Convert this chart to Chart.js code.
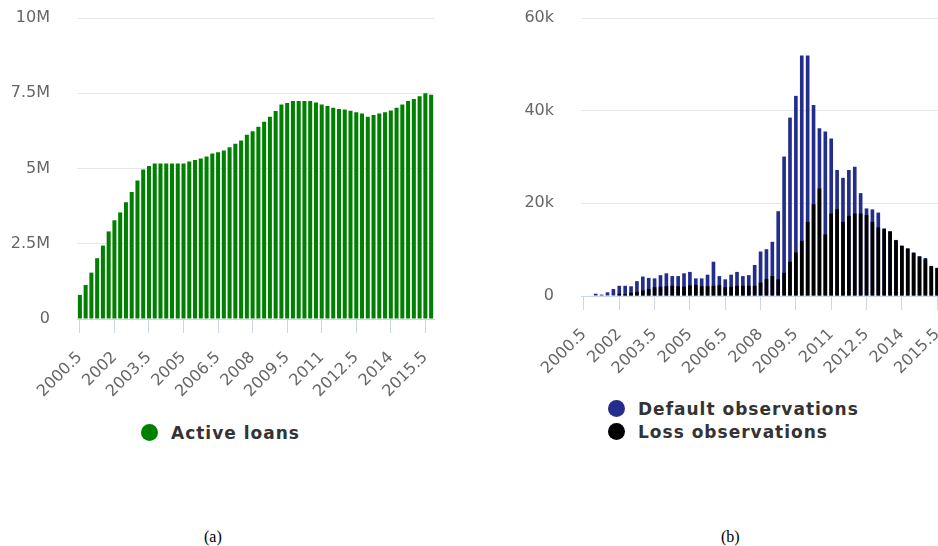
<!DOCTYPE HTML>
<html>
<head>
<meta charset="utf-8">
<script src="https://cdn.jsdelivr.net/npm/chart.js"></script>
<style>
    body { margin: 0; width: 938px; height: 546px; overflow: hidden; background: #fff; position: relative; }
    .box { position: absolute; }
    .legend { position: absolute; font: bold 17px "DejaVu Sans"; letter-spacing: 1px; color: #333; }
    .legend div { display: flex; align-items: center; height: 23px; white-space: nowrap; }
    .legend .dot { display: inline-block; width: 17px; height: 17px; border-radius: 50%; margin-right: 13px; }
    .caption { position: absolute; font: 16px "Liberation Serif"; color: #000; }
</style>
</head>
<body>

<div class="box" style="left:0; top:0; width:445px; height:411px"><canvas id="loansChart"></canvas></div>
<div class="box" style="left:520px; top:0; width:434px; height:388px"><canvas id="obsChart"></canvas></div>

<div class="legend" id="loansLegend" style="left:141px; top:421px"></div>
<div class="legend" id="obsLegend" style="left:608px; top:397px"></div>

<div class="caption" style="left:204px; top:528px">(a)</div>
<div class="caption" style="left:721px; top:528px">(b)</div>

<script type="text/javascript">
    // quarterly periods, shared by both panels
    const quarters = [
        '2000.5','2000.75','2001','2001.25','2001.5','2001.75',
        '2002','2002.25','2002.5','2002.75','2003','2003.25',
        '2003.5','2003.75','2004','2004.25','2004.5','2004.75',
        '2005','2005.25','2005.5','2005.75','2006','2006.25',
        '2006.5','2006.75','2007','2007.25','2007.5','2007.75',
        '2008','2008.25','2008.5','2008.75','2009','2009.25',
        '2009.5','2009.75','2010','2010.25','2010.5','2010.75',
        '2011','2011.25','2011.5','2011.75','2012','2012.25',
        '2012.5','2012.75','2013','2013.25','2013.5','2013.75',
        '2014','2014.25','2014.5','2014.75','2015','2015.25',
        '2015.5','2015.75'
    ];

    // active loans, millions
    const activeLoans = [
        0.8, 1.13, 1.54, 2.02, 2.44, 2.91, 3.28, 3.54, 3.88, 4.22,
        4.6, 4.97, 5.08, 5.17, 5.17, 5.17, 5.17, 5.17, 5.17, 5.23,
        5.28, 5.33, 5.4, 5.5, 5.54, 5.6, 5.71, 5.82, 5.93, 6.12,
        6.24, 6.39, 6.55, 6.72, 6.91, 7.13, 7.18, 7.24, 7.24, 7.24,
        7.24, 7.19, 7.13, 7.08, 7.02, 6.98, 6.96, 6.92, 6.87, 6.83,
        6.72, 6.78, 6.83, 6.87, 6.93, 7.02, 7.13, 7.24, 7.31, 7.4,
        7.5, 7.45
    ];

    // observations, thousands
    const defaultObs = [
        0, 0.1, 0.5, 0.3, 0.8, 1.5, 2.2, 2.2, 2.1, 3.2,
        4.2, 3.9, 3.8, 4.5, 4.9, 4.3, 4.3, 4.9, 5.2, 3.8,
        3.8, 4.6, 7.4, 4.3, 3.6, 4.6, 5.2, 4.3, 4.5, 6.7,
        9.6, 10.1, 11.7, 18.3, 30.1, 38.5, 43.2, 51.9, 51.9, 41.2,
        36.2, 35.5, 34.0, 27.2, 25.5, 27.2, 27.9, 22.2, 18.9, 18.7,
        18.0, 14.6, 14.0, 12.1, 10.9, 10.3, 9.4, 8.6, 8.2, 6.5,
        6.1, 5.8
    ];
    const lossObs = [
        0, 0, 0, 0, 0, 0, 0.5, 0.4, 0.7, 0.9,
        1.2, 1.5, 1.9, 2.0, 2.1, 2.2, 2.1, 2.0, 2.3, 2.4,
        2.1, 2.1, 2.2, 2.3, 1.9, 2.0, 2.2, 2.2, 2.2, 2.2,
        2.9, 3.7, 4.3, 3.6, 5.0, 7.4, 9.4, 11.9, 16.0, 19.8,
        23.2, 13.3, 17.8, 18.7, 16.0, 17.3, 17.8, 17.8, 17.5, 16.0,
        14.8, 14.4, 13.9, 12.0, 10.8, 10.2, 9.3, 8.5, 7.9, 6.4,
        6.0, 5.7
    ];

    Chart.defaults.font.family = '"DejaVu Sans", sans-serif';
    Chart.defaults.color = '#666';

    function xAxis() {
        return {
            offset: true,
            grid: { offset: false, drawOnChartArea: false, tickLength: 14, color: '#ccd6eb' },
            border: { color: '#ccd6eb' },
            ticks: { autoSkip: false, minRotation: 45, maxRotation: 45, padding: 15, font: { size: 16 } },
            // one label every year and a half
            afterBuildTicks: axis => { axis.ticks = axis.ticks.filter(t => t.value % 6 === 0); },
            // fixed band under the plot for the slanted labels
            afterFit: axis => {
                axis.height = 92;
                axis.paddingLeft = 0;
                axis.paddingRight = 0;
            }
        };
    }

    function yAxis(max, step, unit, width) {
        return {
            min: 0,
            max: max,
            grid: { color: '#e6e6e6', drawTicks: false },
            border: { display: false },
            ticks: {
                stepSize: step,
                padding: 27,
                font: { size: 16 },
                callback: v => v === 0 ? '0' : v + unit
            },
            afterFit: axis => {
                axis.width = width;
                // the wide label gap should not push the plot down
                axis.paddingTop = 0;
                axis.paddingBottom = 0;
            }
        };
    }

    function buildLegend(chart, id) {
        const box = document.getElementById(id);
        chart.data.datasets.forEach(ds => {
            const row = document.createElement('div');
            const dot = document.createElement('span');
            dot.className = 'dot';
            dot.style.background = ds.backgroundColor;
            row.appendChild(dot);
            row.appendChild(document.createTextNode(ds.label));
            box.appendChild(row);
        });
    }

    const loansChart = new Chart(document.getElementById('loansChart'), {
        type: 'bar',
        data: {
            labels: quarters,
            datasets: [{
                label: 'Active loans',
                data: activeLoans,
                backgroundColor: '#008000',
                categoryPercentage: 0.7,
                barPercentage: 1
            }]
        },
        options: {
            responsive: true,
            maintainAspectRatio: false,
            animation: false,
            layout: { padding: { top: 18, right: 11, bottom: 0, left: 0 } },
            plugins: { legend: { display: false }, tooltip: { enabled: false } },
            scales: { x: xAxis(), y: yAxis(10, 2.5, 'M', 77) }
        }
    });

    // loss bars sit in front of the default bars at the same position
    const obsChart = new Chart(document.getElementById('obsChart'), {
        type: 'bar',
        data: {
            labels: quarters,
            datasets: [{
                label: 'Default observations',
                data: defaultObs,
                backgroundColor: '#232d8c',
                grouped: false,
                order: 1,
                categoryPercentage: 0.62,
                barPercentage: 1
            }, {
                label: 'Loss observations',
                data: lossObs,
                backgroundColor: '#000000',
                grouped: false,
                order: 0,
                categoryPercentage: 0.62,
                barPercentage: 1
            }]
        },
        options: {
            responsive: true,
            maintainAspectRatio: false,
            animation: false,
            layout: { padding: { top: 18, right: 8, bottom: 0, left: 0 } },
            plugins: { legend: { display: false }, tooltip: { enabled: false } },
            scales: { x: xAxis(), y: yAxis(60, 20, 'k', 61) }
        }
    });

    buildLegend(loansChart, 'loansLegend');
    buildLegend(obsChart, 'obsLegend');
</script>
</body>
</html>
